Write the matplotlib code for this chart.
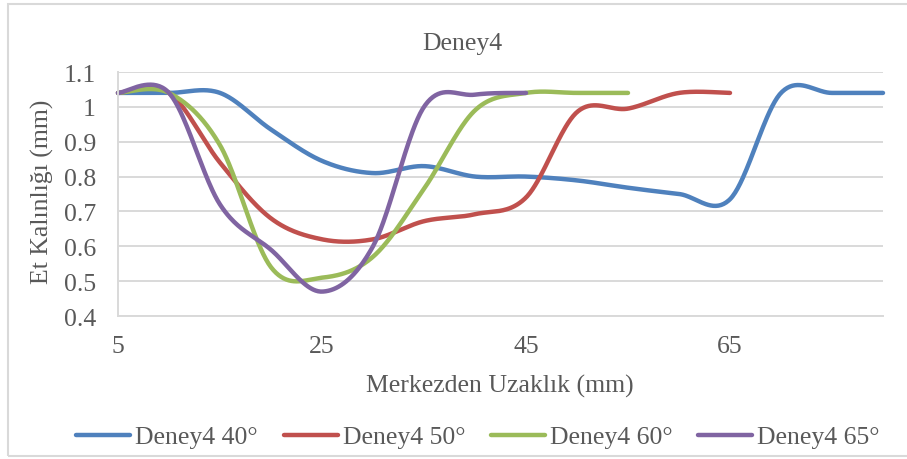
import numpy as np
import matplotlib
matplotlib.use("Agg")
import matplotlib.pyplot as plt
from matplotlib.patches import Rectangle

# ---- data ----
x_40 = [5, 10, 15, 20, 25, 30, 35, 40, 45, 50, 55, 60, 65, 70, 75, 80]
y_40 = [1.04, 1.04, 1.04, 0.935, 0.845, 0.81, 0.83, 0.80, 0.80, 0.789, 0.768, 0.75, 0.735, 1.04, 1.04, 1.04]

x_50 = [5, 10, 15, 20, 25, 30, 35, 40, 45, 50, 55, 60, 65]
y_50 = [1.04, 1.04, 0.84, 0.68, 0.62, 0.62, 0.672, 0.692, 0.74, 0.985, 0.995, 1.04, 1.04]

x_60 = [5, 10, 15, 20, 25, 30, 35, 40, 45, 50, 55]
y_60 = [1.04, 1.04, 0.89, 0.54, 0.51, 0.57, 0.765, 0.99, 1.04, 1.04, 1.04]

x_65 = [5, 10, 15, 20, 25, 30, 35, 40, 45]
y_65 = [1.04, 1.04, 0.72, 0.59, 0.47, 0.60, 1.0, 1.035, 1.04]

series_names = ["Deney4 40°", "Deney4 50°", "Deney4 60°", "Deney4 65°"]
series_colors = ["#4F81BD", "#C0504D", "#9BBB59", "#8064A2"]
x_ticks = [5, 25, 45, 65]
y_ticks = [0.4, 0.5, 0.6, 0.7, 0.8, 0.9, 1.0, 1.1]
y_tick_labels = ["0.4", "0.5", "0.6", "0.7", "0.8", "0.9", "1", "1.1"]


def smooth(xs, ys, n=40):
    """Excel-style smoothed line (uniform Catmull-Rom / Bezier through the points)."""
    P = np.column_stack([xs, ys]).astype(float)
    out = []
    m = len(P)
    t = np.linspace(0, 1, n, endpoint=False)
    for i in range(m - 1):
        p0 = P[i - 1] if i > 0 else P[i]
        p1 = P[i]
        p2 = P[i + 1]
        p3 = P[i + 2] if i + 2 < m else P[i + 1]
        c1 = p1 + (p2 - p0) / 6.0
        c2 = p2 - (p3 - p1) / 6.0
        tt = t[:, None]
        seg = ((1 - tt) ** 3) * p1 + 3 * ((1 - tt) ** 2) * tt * c1 + 3 * (1 - tt) * tt ** 2 * c2 + tt ** 3 * p2
        out.append(seg)
    out.append(P[-1][None, :])
    out = np.vstack(out)
    return out[:, 0], out[:, 1]


W, H = 907, 460
fig = plt.figure(figsize=(W / 100, H / 100), dpi=100)
plt.rcParams['font.family'] = ['Liberation Serif', 'DejaVu Serif']
txt_color = "#595959"
fs = 18.5

# chart border
fig.patches.append(Rectangle((8 / W, 3 / H), 1.2, (457 - 5) / H, transform=fig.transFigure,
                             fill=False, edgecolor="#D9D9D9", linewidth=1.5))

left, right, top, bottom = 118, 883, 73, 317
ax = fig.add_axes([left / W, 1 - bottom / H, (right - left) / W, (bottom - top) / H])

xs_all = [x_40, x_50, x_60, x_65]
ys_all = [y_40, y_50, y_60, y_65]
for xs, ys, name, col in zip(xs_all, ys_all, series_names, series_colors):
    sx, sy = smooth(xs, ys)
    ax.plot(sx, sy, color=col, linewidth=3.2, label=name, solid_capstyle="round",
            solid_joinstyle="round", clip_on=False)

ax.set_xlim(5, 80)
ax.set_ylim(0.4, 1.1)
ax.set_xticks(x_ticks)
ax.set_xticklabels([str(v) for v in x_ticks])
ax.set_yticks(y_ticks)
ax.set_yticklabels(y_tick_labels)
ax.yaxis.grid(True, color="#D9D9D9", linewidth=1.4)
ax.set_axisbelow(True)
for s in ["top", "right"]:
    ax.spines[s].set_visible(False)
for s in ["left", "bottom"]:
    ax.spines[s].set_color("#D9D9D9")
    ax.spines[s].set_linewidth(1.4)
ax.tick_params(axis="both", length=0, labelsize=fs, labelcolor=txt_color)
ax.tick_params(axis="x", pad=14)
ax.tick_params(axis="y", pad=16)

fig.text(462 / W, 1 - 44 / H, "Deney4", ha="center", va="center", fontsize=fs, color=txt_color)
fig.text(500 / W, 1 - 386 / H, "Merkezden Uzaklık (mm)", ha="center", va="center",
         fontsize=fs, color=txt_color)
fig.text(42 / W, 1 - 192 / H, "Et Kalınlığı (mm)", ha="center", va="center", rotation=90,
         fontsize=fs, color=txt_color)

leg = fig.legend(loc="center", bbox_to_anchor=(478 / W, 1 - 438 / H), ncol=4, frameon=False,
                 fontsize=fs, handlelength=2.1, handletextpad=0.2, columnspacing=1.0,
                 labelcolor=txt_color, borderaxespad=0, borderpad=0)
for line in leg.get_lines():
    line.set_linewidth(3.2)

fig.savefig("out.png", dpi=100, facecolor="white")
